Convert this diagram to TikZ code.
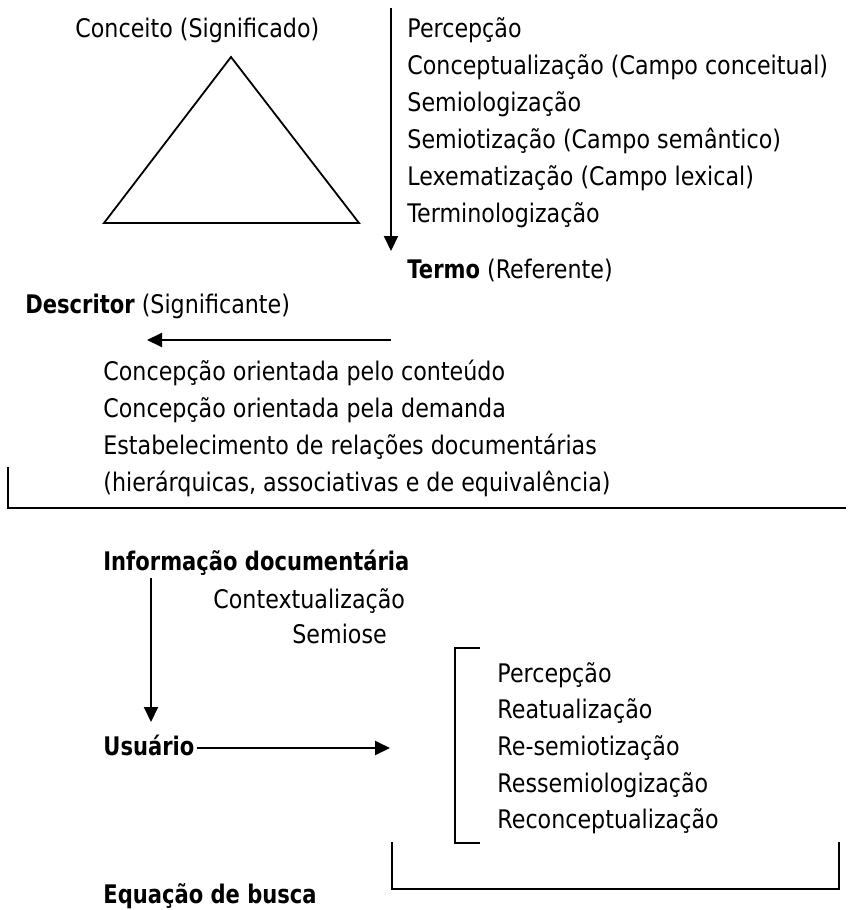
\documentclass[tikz,border=0pt]{standalone}
\usepackage{fontspec}
\setmainfont{DejaVu Sans}[FakeStretch=0.867, BoldFeatures={FakeStretch=0.823}]
\usetikzlibrary{arrows.meta,positioning}
\definecolor{ink}{RGB}{0,0,0}
\definecolor{paper}{RGB}{255,255,255}
\tikzset{
  txt/.style={anchor=base west, inner sep=0pt, text=ink,
    font=\fontsize{12.8}{18.5}\selectfont},
  bracketLine/.style={draw=ink, line width=1pt},
  arrow/.style={-{Triangle[length=7.5pt,width=7pt]}, line width=1pt, draw=ink}
}

\begin{document}
\begin{tikzpicture}[x=0.5pt,y=-0.5pt]

% Background
\fill[paper] (0,0) rectangle (848,910);

% Triangle
\node[txt] (conceito) at (75,37) {Conceito (Significado)};
\coordinate (triTop) at (231,57);
\coordinate (triLeft) at (104,223);
\coordinate (triRight) at (359,223);
\draw[bracketLine, line width=0.9pt] (triTop) -- (triLeft) -- (triRight) -- cycle;

% Steps to the term
\coordinate (stepTop) at (391,8);
\coordinate (stepEnd) at (391,251);
\draw[arrow] (stepTop) -- (stepEnd);
\node[txt] (percep) at (407,37) {Percepção};
\node[txt] (concep) at (407,74) {Conceptualização (Campo conceitual)};
\node[txt] (semiol) at (407,111) {Semiologização};
\node[txt] (semiot) at (407,148) {Semiotização (Campo semântico)};
\node[txt] (lexem) at (407,185) {Lexematização (Campo lexical)};
\node[txt] (termin) at (407,222) {Terminologização};
\node[txt] (termo) at (407,278) {\textbf{Termo} (Referente)};

% Descriptor
\node[txt] (descritor) at (25,313) {\textbf{Descritor} (Significante)};
\coordinate (descStart) at (391,340);
\coordinate (descEnd) at (147,340);
\draw[arrow] (descStart) -- (descEnd);
\node[txt] (conteudo) at (103,380) {Concepção orientada pelo conteúdo};
\node[txt] (demanda) at (103,417) {Concepção orientada pela demanda};
\node[txt] (relacoes) at (103,454) {Estabelecimento de relações documentárias};
\node[txt] (tipos) at (103,491) {(hierárquicas, associativas e de equivalência)};
\coordinate (sepTop) at (8,467);
\coordinate (sepCorner) at (8,508);
\coordinate (sepEnd) at (846,508);
\draw[bracketLine] (sepTop) -- (sepCorner) -- (sepEnd);

% Documentary information and user
\node[txt] (info) at (103,570) {\textbf{Informação documentária}};
\node[txt] (context) at (213,608) {Contextualização};
\node[txt] (semiose) at (292,643) {Semiose};
\node[txt] (usuario) at (103,755) {\textbf{Usuário}};
\coordinate (infoDown) at (151,578);
\coordinate (userUp) at (151,722);
\draw[arrow] (infoDown) -- (userUp);
\coordinate (userEnd) at (390,748);
\draw[arrow] (usuario.east |- userEnd) ++(2,0) -- (userEnd);

% Re-reading steps
\coordinate (brTop) at (455,648);
\coordinate (brBottom) at (455,843);
\draw[bracketLine] (480,648) -- (brTop) -- (brBottom) -- (480,843);
\node[txt] (percep2) at (497,682) {Percepção};
\node[txt] (reatual) at (497,718) {Reatualização};
\node[txt] (resemiot) at (497,755) {Re-semiotização};
\node[txt] (ressemiol) at (497,792) {Ressemiologização};
\node[txt] (reconcep) at (497,828) {Reconceptualização};

% Search equation
\coordinate (eqLeft) at (392,842);
\coordinate (eqRight) at (839,842);
\draw[bracketLine] (eqLeft) -- (392,889) -- (839,889) -- (eqRight);
\node[txt] (equacao) at (103,903) {\textbf{Equação de busca}};

\end{tikzpicture}
\end{document}
